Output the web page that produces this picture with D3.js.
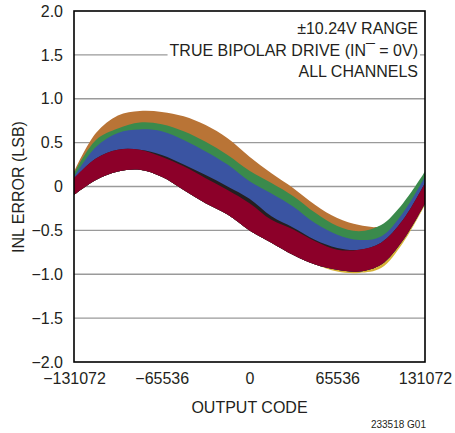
<!DOCTYPE html>
<html><head><meta charset="utf-8">
<script src="https://cdn.jsdelivr.net/npm/d3@7/dist/d3.min.js"></script>
<style>
body{margin:0;background:#fff;}
svg{display:block;font-family:"Liberation Sans",Arial,sans-serif;}
</style></head>
<body><svg id="c" width="455" height="433"></svg>
<script>
// output codes sampled across the range
const codes = [-131072,-114688,-98304,-81920,-65536,-49152,-32768,-16384,0,16384,32768,49152,65536,81920,98304,114688,131072];
// band edges (INL, LSB)
const orangeTop   = [0.17,0.61,0.81,0.86,0.85,0.80,0.70,0.55,0.34,0.15,-0.02,-0.21,-0.36,-0.44,-0.45,-0.22,0.15];
const greenTop    = [0.15,0.53,0.66,0.73,0.71,0.63,0.51,0.36,0.18,0.04,-0.11,-0.30,-0.45,-0.51,-0.44,-0.19,0.17];
const blueTop     = [0.11,0.45,0.61,0.65,0.63,0.53,0.40,0.25,0.06,-0.08,-0.23,-0.42,-0.55,-0.61,-0.57,-0.30,0.11];
const blackTop    = [0.09,0.32,0.42,0.42,0.36,0.25,0.13,0.00,-0.14,-0.34,-0.47,-0.61,-0.70,-0.72,-0.64,-0.38,0.04];
const redTop      = [0.095,0.32,0.42,0.42,0.34,0.23,0.095,-0.04,-0.19,-0.38,-0.49,-0.625,-0.72,-0.72,-0.64,-0.38,0.04];
const redBottom   = [-0.095,0.075,0.17,0.19,0.11,-0.04,-0.19,-0.32,-0.50,-0.64,-0.78,-0.89,-0.95,-0.97,-0.89,-0.61,-0.19];
const yellowBottom= [-0.095,0.075,0.17,0.19,0.11,-0.04,-0.19,-0.32,-0.50,-0.64,-0.78,-0.89,-0.97,-0.985,-0.93,-0.64,-0.21];

const xTicks = [-131072,-65536,0,65536,131072];
const xTickLabels = ["\u2212131072","\u221265536","0","65536","131072"];
const yTicks = [-2,-1.5,-1,-0.5,0,0.5,1,1.5,2];
const yTickLabels = ["\u22122.0","\u22121.5","\u22121.0","\u22120.5","0","0.5","1.0","1.5","2.0"];

const svg = d3.select("#c");
const L=74,R=425,T=11,B=362;
const x = d3.scaleLinear().domain([-131072,131072]).range([L,R]);
const y = d3.scaleLinear().domain([-2,2]).range([B,T]);

// gridlines
svg.append("g").selectAll("line").data(yTicks.filter(v=>v>-2&&v<2)).join("line")
  .attr("x1",L).attr("x2",R).attr("y1",d=>y(d)).attr("y2",d=>y(d))
  .attr("stroke","#9a9a9a").attr("stroke-width",1.4);

// bands
const bands = [
  {top:redTop, bot:yellowBottom, color:"#d7b236"},
  {top:orangeTop, bot:redBottom, color:"#b97436"},
  {top:greenTop, bot:redBottom, color:"#3a8a4c"},
  {top:blueTop, bot:redBottom, color:"#3a54a2"},
  {top:blackTop, bot:redBottom, color:"#231f20"},
  {top:redTop, bot:redBottom, color:"#8c0029"}
];
const area = d3.area().curve(d3.curveCatmullRom.alpha(0.5))
  .x((d,i)=>x(codes[i])).y0(d=>y(d[1])).y1(d=>y(d[0]));
svg.append("g").selectAll("path").data(bands).join("path")
  .attr("d",b=>area(b.top.map((v,i)=>[v,b.bot[i]])))
  .attr("fill",b=>b.color);

// frame
svg.append("rect").attr("x",L).attr("y",T).attr("width",R-L).attr("height",B-T)
  .attr("fill","none").attr("stroke","#000").attr("stroke-width",1.6);

// y axis labels
const yAxis = d3.axisLeft(y).tickValues(yTicks).tickSize(0).tickPadding(11)
  .tickFormat((d,i)=>yTickLabels[i]);
const ga = svg.append("g").attr("transform",`translate(${L},0)`).call(yAxis);
ga.select(".domain").remove();
ga.selectAll("text").attr("font-size",16).attr("fill","#231f20")
  .attr("font-family","'Liberation Sans',Arial,sans-serif");

// x axis labels
const xAxis = d3.axisBottom(x).tickValues(xTicks).tickSize(0).tickPadding(11)
  .tickFormat((d,i)=>xTickLabels[i]);
const gx = svg.append("g").attr("transform",`translate(0,${B})`).call(xAxis);
gx.select(".domain").remove();
gx.selectAll("text").attr("font-size",16).attr("fill","#231f20")
  .attr("font-family","'Liberation Sans',Arial,sans-serif");

// axis titles
svg.append("text").attr("x",(L+R)/2).attr("y",413).attr("text-anchor","middle")
  .attr("font-size",16).attr("fill","#231f20").text("OUTPUT CODE");
svg.append("text").attr("transform","translate(24,187) rotate(-90)").attr("text-anchor","middle")
  .attr("font-size",16).attr("fill","#231f20").text("INL ERROR (LSB)");
svg.append("text").attr("x",426).attr("y",428).attr("text-anchor","end")
  .attr("font-size",10).attr("fill","#231f20").text("233518 G01");

// annotation
const notes = ["\u00B110.24V RANGE","TRUE BIPOLAR DRIVE (IN\u00AF = 0V)","ALL CHANNELS"];
const ng = svg.append("g");
notes.forEach((t,i)=>{
  const tx = ng.append("text").attr("x",418).attr("y",34+i*21.5).attr("text-anchor","end")
    .attr("font-size",16).attr("fill","#231f20").text(t);
  const bb = tx.node().getBBox();
  ng.insert("rect","text").attr("x",bb.x-2).attr("y",bb.y).attr("width",bb.width+4).attr("height",bb.height)
    .attr("fill","#fff");
});
</script></body></html>
